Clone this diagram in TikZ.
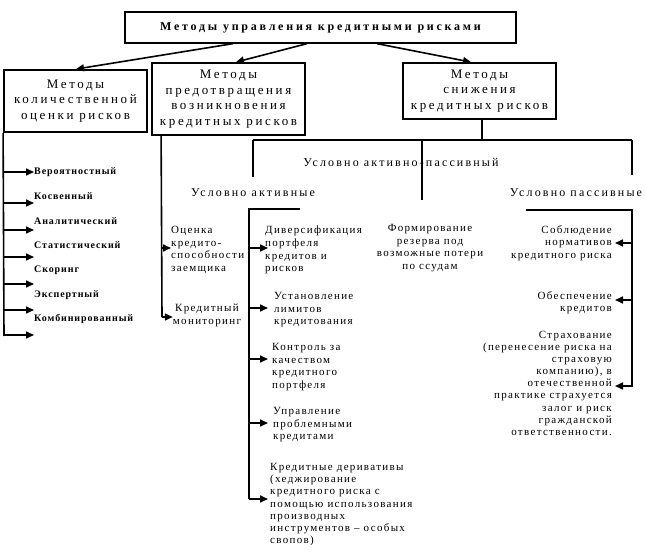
\documentclass[tikz,border=0pt]{standalone}
\usepackage{fontspec}
\setmainfont{Liberation Serif}
\newfontfamily\ttlfont[LetterSpace=23]{Liberation Serif}
\newfontfamily\hdfont[LetterSpace=20]{Liberation Serif}
\newfontfamily\qfont[LetterSpace=9]{Liberation Serif}
\newfontfamily\itfont[LetterSpace=12]{Liberation Serif}
\newfontfamily\grfont[LetterSpace=18]{Liberation Serif}
\usetikzlibrary{arrows.meta}
\tikzset{
  topbox/.style={draw, line width=1.3pt, inner sep=0pt, font=\ttlfont\bfseries\fontsize{12}{14}\selectfont},
  hbox/.style={draw, line width=1.8pt, align=center, inner sep=0pt, font=\hdfont\fontsize{13}{15.5}\selectfont},
  ln/.style={line width=1.6pt},
  arr/.style={line width=1.6pt, -{Triangle[length=8pt,width=7pt]}},
  qlbl/.style={inner sep=0pt, font=\qfont\bfseries\fontsize{10}{12}\selectfont},
  lbl/.style={inner sep=0pt, font=\itfont\fontsize{11}{12.7}\selectfont},
  grp/.style={inner sep=0pt, font=\grfont\fontsize{12}{14}\selectfont},
}
\begin{document}
\begin{tikzpicture}[x=1pt,y=-1pt]
\useasboundingbox (0,0) rectangle (646,559);
% boxes
\node[topbox, minimum width=391pt, minimum height=31pt] (top) at (320.5,27.5) {Методы управления кредитными рисками};
\node[hbox, minimum width=143pt, minimum height=62pt] (lbox) at (75.5,101) {Методы\\количественной\\оценки рисков};
\node[hbox, minimum width=153pt, minimum height=72pt] (mbox) at (228.5,99) {Методы\\предотвращения\\возникновения\\кредитных рисков};
\node[hbox, minimum width=153pt, minimum height=56pt] (rbox) at (479.5,91) {Методы\\снижения\\кредитных рисков};
% arrows from top
\draw[arr] ([xshift=-87.5pt]top.south) -- ([xshift=0.5pt]lbox.north);
\draw[arr] ([xshift=-13.5pt]top.south) -- ([xshift=7.5pt]mbox.north);
\draw[arr] ([xshift=56.5pt]top.south) -- ([xshift=-8.5pt]rbox.north);
% left column
\coordinate (lb0) at (lbox.south west);
\coordinate (lb1) at (4,336);
\draw[ln] (lb0) -- (lb1);
\foreach \y/\t [count=\i] in {172/Вероятностный,196/Косвенный,221/Аналитический,245/Статистический,270/Скоринг,295/Экспертный,319/Комбинированный}{
  \node[qlbl, anchor=west] (q\i) at (34,\y) {\t};
}
\foreach \y [count=\i] in {172,203,230,257,284,310,335}{
  \coordinate (qa\i) at (4,\y);
  \coordinate (qe\i) at (34,\y);
  \draw[arr] (qa\i) -- (qe\i);
}
% middle column
\coordinate (mb0) at ([xshift=10pt]mbox.south west);
\coordinate (mb1) at (162,317);
\draw[ln] (mb0) -- (mb1);
\node[lbl, anchor=north west, align=left] (p1) at (171,226) {Оценка\\кредито-\\способности\\заемщика};
\node[lbl, anchor=north, align=center] (p2) at (207,304) {Кредитный\\мониторинг};
\coordinate (pa1) at (162,248);
\draw[arr] (pa1) -- (pa1 -| p1.west);
\draw[arr] (mb1) -- (mb1 -| p2.west);
% right box distribution
\coordinate (rb0) at (482,140);
\coordinate (hl) at (253,140);
\coordinate (hr) at (632,140);
\coordinate (hm) at (422,140);
\draw[ln] (rbox.south -| rb0) -- (rb0);
\draw[ln] (hl) -- (hr);
\node[grp] (gap) at (401,162) {Условно активно-пассивный};
\node[grp] (ga) at (253,193) {Условно активные};
\node[grp] (gp) at (576,193) {Условно пассивные};
\draw[ln] (hl) -- (253,177);
\draw[ln] (hr) -- (632,175);
\draw[ln] (hm) -- (422,200);
% active group
\coordinate (a0) at (300,209);
\coordinate (a1) at (249,209);
\coordinate (a2) at (249,499);
\draw[ln] (a0) -- (a1) -- (a2);
\node[lbl, anchor=north west, align=left] (d1) at (265,226) {Диверсификация\\портфеля\\кредитов и\\рисков};
\node[lbl, anchor=north west, align=left] (d2) at (274,292) {Установление\\лимитов\\кредитования};
\node[lbl, anchor=north west, align=left] (d3) at (272,343) {Контроль за\\качеством\\кредитного\\портфеля};
\node[lbl, anchor=north west, align=left] (d4) at (273,407) {Управление\\проблемными\\кредитами};
\node[lbl, anchor=north west, align=left, font=\itfont\fontsize{11}{12.2}\selectfont] (d5) at (270,463) {Кредитные деривативы\\(хеджирование\\кредитного риска с\\помощью использования\\производных\\инструментов – особых\\свопов)};
\foreach \y [count=\i] in {248,308,359,423,499}{
  \coordinate (da\i) at (249,\y);
  \coordinate (de\i) at (268,\y);
  \draw[arr] (da\i) -- (de\i);
}
% middle item
\node[lbl, anchor=north, align=center] (f1) at (430,224) {Формирование\\резерва под\\возможные потери\\по ссудам};
% passive group
\coordinate (s0) at (526,210);
\coordinate (s1) at (632,210);
\coordinate (s2) at (632,387);
\draw[ln] (s0) -- (s1) -- (s2);
\node[lbl, anchor=north east, align=right] (r1) at (612,225) {Соблюдение\\нормативов\\кредитного риска};
\node[lbl, anchor=north east, align=right] (r2) at (612,291) {Обеспечение\\кредитов};
\node[lbl, anchor=north east, align=right, font=\itfont\fontsize{11}{12.1}\selectfont] (r3) at (612,331) {Страхование\\(перенесение риска на\\страховую\\компанию), в\\отечественной\\практике страхуется\\залог и риск\\гражданской\\ответственности.};
\foreach \y [count=\i] in {243,300,386}{
  \coordinate (ra\i) at (632,\y);
  \coordinate (re\i) at (615,\y);
  \draw[arr] (ra\i) -- (re\i);
}
\end{tikzpicture}
\end{document}
